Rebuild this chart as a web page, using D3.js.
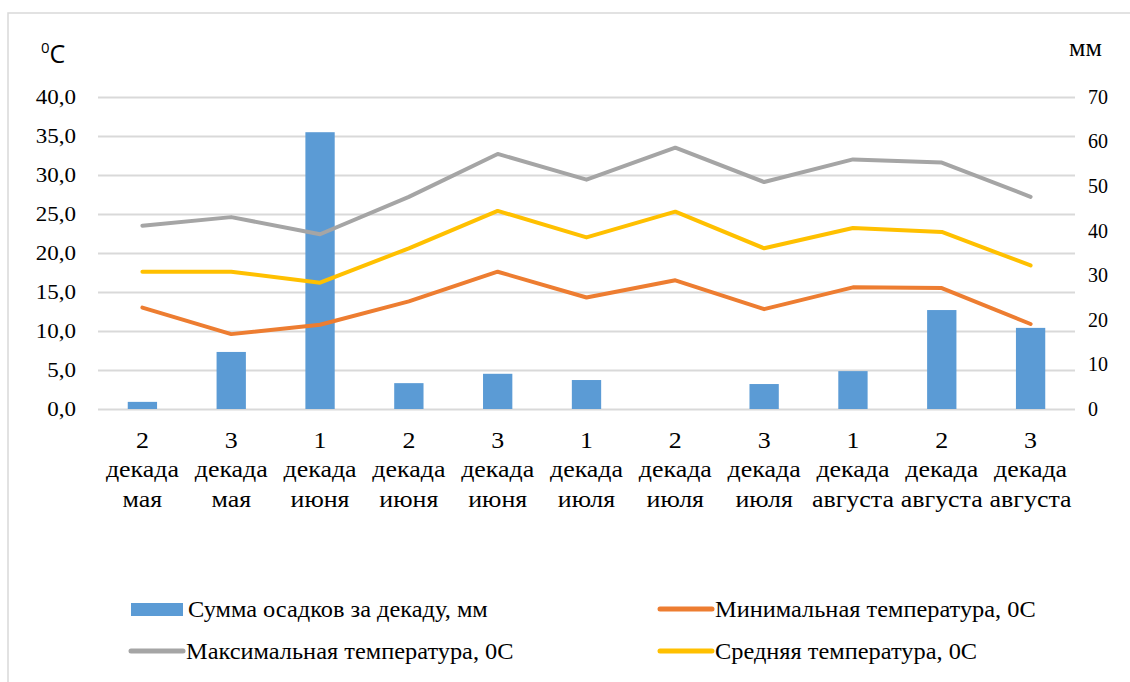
<!DOCTYPE html>
<html>
<head>
<meta charset="utf-8">
<script src="https://cdn.jsdelivr.net/npm/d3@7"></script>
<style>
  body { margin: 0; background: #fff; }
</style>
</head>
<body>
<div id="chart"></div>
<script>
// decade number and month under each column
const decades = ["2","3","1","2","3","1","2","3","1","2","3"];
const months = ["мая","мая","июня","июня","июня","июля","июля","июля","августа","августа","августа"];

// precipitation, mm (right axis)
const precip = [1.6, 12.8, 62.1, 5.8, 7.9, 6.5, 0, 5.6, 8.5, 22.2, 18.2];
// temperatures, °C (left axis)
const tMin  = [13.0, 9.6, 10.8, 13.8, 17.6, 14.3, 16.5, 12.8, 15.6, 15.5, 10.9];
const tMax  = [23.5, 24.6, 22.4, 27.2, 32.7, 29.4, 33.5, 29.1, 32.0, 31.6, 27.2];
const tMean = [17.6, 17.6, 16.2, 20.6, 25.4, 22.0, 25.3, 20.6, 23.2, 22.7, 18.4];

const tempTicks = [0, 5, 10, 15, 20, 25, 30, 35, 40];
const mmTicks = [0, 10, 20, 30, 40, 50, 60, 70];

const W = 1130, H = 682;
const SERIF = "Liberation Serif, Tinos, DejaVu Serif, serif";
const svg = d3.select("#chart").append("svg").attr("width", W).attr("height", H)
  .attr("font-family", SERIF);

// chart frame
svg.append("rect").attr("x", 8).attr("y", 13).attr("width", W + 10).attr("height", H + 10)
  .attr("fill", "none").attr("stroke", "#d9d9d9").attr("stroke-width", 1.5);

const pl = 98, pr = 1075, pt = 97, pb = 409;

const x = d3.scaleBand().domain(d3.range(decades.length)).range([pl, pr]).padding(0);
const bw = x.bandwidth();
const cx = i => x(i) + bw / 2;
const yT = d3.scaleLinear().domain([0, 40]).range([pb, pt]);
const yP = d3.scaleLinear().domain([0, 70]).range([pb, pt]);

// grid
svg.append("g").attr("transform", `translate(${pl},0)`)
  .call(d3.axisLeft(yT).tickValues(tempTicks).tickSize(-(pr - pl)).tickFormat(""))
  .call(g => g.select(".domain").remove())
  .call(g => g.selectAll("line").attr("stroke", "#d9d9d9").attr("stroke-width", 2));

// left axis
const comma = d => d3.format(".1f")(d).replace(".", ",");
svg.append("g").attr("transform", `translate(${pl},0)`)
  .call(d3.axisLeft(yT).tickValues(tempTicks).tickSize(0).tickPadding(22).tickFormat(comma))
  .attr("font-family", SERIF).attr("font-size", 20)
  .call(g => g.select(".domain").remove())
  .call(g => g.selectAll("text").attr("fill", "#000")
    .attr("transform", "scale(1.15,1)").attr("x", -22 / 1.15));

// right axis
svg.append("g").attr("transform", `translate(${pr},0)`)
  .call(d3.axisRight(yP).tickValues(mmTicks).tickSize(0).tickPadding(13))
  .attr("font-family", SERIF).attr("font-size", 20)
  .call(g => g.select(".domain").remove())
  .call(g => g.selectAll("text").attr("fill", "#000"));

// x axis, three lines per label
svg.append("g").attr("transform", `translate(0,${pb})`)
  .call(d3.axisBottom(x).tickSize(0).tickFormat(""))
  .attr("font-family", SERIF).attr("font-size", 24)
  .call(g => g.select(".domain").remove())
  .call(g => g.selectAll(".tick text").each(function(i) {
    const t = d3.select(this).attr("fill", "#000").attr("dy", null).attr("y", 0)
      .attr("transform", "scale(1.08,1)");
    [decades[i], "декада", months[i]].forEach((s, k) =>
      t.append("tspan").attr("x", 0).attr("y", 39 + k * 29.5).text(s));
  }));

// bars
const barW = bw * 0.33;
svg.append("g").selectAll("rect").data(precip).join("rect")
  .attr("x", (d, i) => cx(i) - barW / 2)
  .attr("width", barW)
  .attr("y", d => yP(d))
  .attr("height", d => pb - yP(d))
  .attr("fill", "#5b9bd5");

// lines
const series = [
  { name: "Минимальная температура, 0С", values: tMin, color: "#ed7d31" },
  { name: "Максимальная температура, 0С", values: tMax, color: "#a5a5a5" },
  { name: "Средняя температура, 0С", values: tMean, color: "#ffc000" }
];
const line = d3.line().x((d, i) => cx(i)).y(d => yT(d));
svg.append("g").selectAll("path").data([series[1], series[2], series[0]]).join("path")
  .attr("d", s => line(s.values))
  .attr("fill", "none")
  .attr("stroke", s => s.color)
  .attr("stroke-width", 4)
  .attr("stroke-linejoin", "round")
  .attr("stroke-linecap", "round");

// axis titles
const degC = svg.append("text").attr("x", 41).attr("y", 63)
  .attr("font-family", "Open Sans, Liberation Sans, sans-serif").attr("font-size", 25);
degC.append("tspan").attr("font-size", 15).attr("dy", -10).text("0");
degC.append("tspan").attr("dy", 10).text("C");
svg.append("text").attr("x", 1069).attr("y", 56).attr("font-size", 26).text("мм");

// legend
const legend = [
  { name: "Сумма осадков за декаду, мм", color: "#5b9bd5", bar: true, x: 131, y: 609 },
  { name: series[0].name, color: series[0].color, x: 658, y: 609 },
  { name: series[1].name, color: series[1].color, x: 129, y: 651 },
  { name: series[2].name, color: series[2].color, x: 658, y: 651 }
];
const lg = svg.append("g").selectAll("g").data(legend).join("g")
  .attr("transform", d => `translate(${d.x},${d.y})`);
lg.filter(d => d.bar).append("rect")
  .attr("x", 0).attr("y", -6).attr("width", 52).attr("height", 13).attr("fill", d => d.color);
lg.filter(d => !d.bar).append("line")
  .attr("x1", 2).attr("x2", 54).attr("stroke", d => d.color)
  .attr("stroke-width", 5).attr("stroke-linecap", "round");
lg.append("text").attr("x", 57 / 1.06).attr("y", 8).attr("font-size", 23)
  .attr("transform", "scale(1.06,1)").text(d => d.name);
</script>
</body>
</html>
